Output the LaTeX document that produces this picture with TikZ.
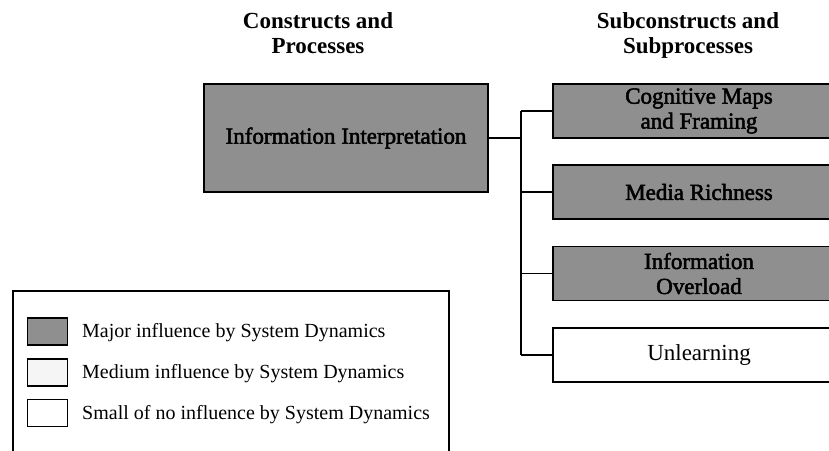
\documentclass[tikz,border=0pt]{standalone}
\usepackage{fontspec}
\setmainfont{Liberation Serif}
\newfontfamily\heavyfont[FakeBold=2.2]{Liberation Serif}
\begin{document}
\begin{tikzpicture}[x=1pt,y=-1pt,
  title/.style={align=center,inner sep=0pt,font=\fontsize{23}{25}\selectfont\bfseries},
  darkbox/.style={draw=black,line width=1.4pt,fill=black!44,align=center,inner sep=0pt,
    font=\heavyfont\fontsize{23}{25}\selectfont},
  plainbox/.style={draw=black,line width=1.4pt,fill=white,align=center,inner sep=0pt,
    font=\fontsize{23}{25}\selectfont},
  link/.style={draw=black,line width=1.1pt},
  swatch/.style={draw=black,line width=1.1pt,minimum width=40pt,minimum height=27pt,inner sep=0pt},
  legtext/.style={anchor=base west,inner sep=0pt,font=\fontsize{20}{24}\selectfont}
]
\useasboundingbox (0,0) rectangle (829,450);
\clip (0,0) rectangle (829,450);
\fill[white] (0,0) rectangle (829,450);

% titles
\node[title] (t1) at (318,33) {Constructs and\\Processes};
\node[title] (t2) at (688,35) {Subconstructs and\\Subprocesses};

% main box
\node[darkbox,minimum width=284pt,minimum height=108pt] (main) at (346,138) {Information Interpretation};

% right boxes
\node[darkbox,minimum width=292pt,minimum height=54pt] (b1) at (699,111) {Cognitive Maps\\and Framing};
\node[darkbox,minimum width=292pt,minimum height=54pt] (b2) at (699,192) {Media Richness};
\node[darkbox,minimum width=292pt,minimum height=54pt] (b3) at (699,273.5) {Information\\Overload};
\node[plainbox,minimum width=292pt,minimum height=54pt] (b4) at (699,355) {Unlearning};

% connectors
\coordinate (jn) at (521,138);
\draw[link] (main.east) -- (jn);
\draw[link] (jn |- b1.west) -- (jn |- b4.west);
\draw[link] (jn |- b1.west) -- (b1.west);
\draw[link] (jn |- b2.west) -- (b2.west);
\draw[link] (jn |- b3.west) -- (b3.west);
\draw[link] (jn |- b4.west) -- (b4.west);

% legend
\draw[line width=1.1pt] (13,470) -- (13,291) -- (449,291) -- (449,470);
\node[swatch,fill=black!44] (s1) at (47.5,331.5) {};
\node[swatch,fill=black!4] (s2) at (47.5,372.5) {};
\node[swatch,fill=white] (s3) at (47.5,413) {};
\node[legtext] (l1) at (82,337) {Major influence by System Dynamics};
\node[legtext] (l2) at (82,378) {Medium influence by System Dynamics};
\node[legtext] (l3) at (82,419) {Small of no influence by System Dynamics};
\end{tikzpicture}
\end{document}
